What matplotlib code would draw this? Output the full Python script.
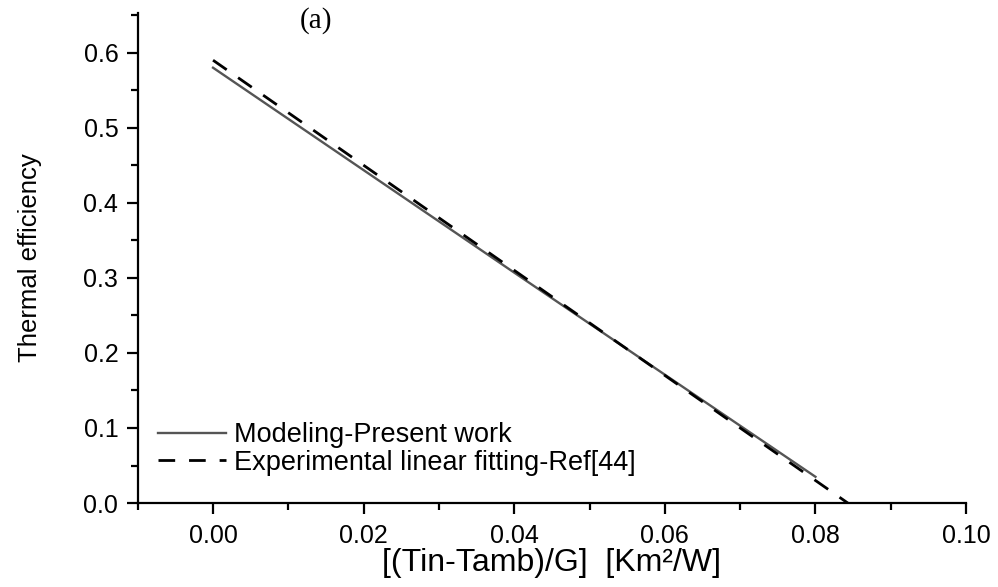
import matplotlib
matplotlib.use("Agg")
from matplotlib import pyplot as plt
from matplotlib.ticker import MultipleLocator

# Datos
x_modelo = [0.0, 0.04, 0.08]
ef_modelo = [0.580, 0.307, 0.035]
x_exp = [0.0, 0.04, 0.0843]
ef_exp = [0.590, 0.310, 0.0]

etiquetas = ["Modeling-Present work", "Experimental linear fitting-Ref[44]"]

plt.rcParams['font.family'] = ['Liberation Sans', 'DejaVu Sans']

fig = plt.figure(figsize=(9.98, 5.87), dpi=100)
ax = fig.add_axes([0.138, 0.143, 0.830, 0.835])

ax.plot(x_modelo, ef_modelo, color="#555555", lw=1.7, label=etiquetas[0])
ax.plot(x_exp, ef_exp, color="black", lw=2.0, dashes=(6, 5), label=etiquetas[1])

ax.set_xlim(-0.01, 0.10)
ax.set_ylim(0.0, 0.653)

# Solo ejes izquierdo e inferior
ax.spines["top"].set_visible(False)
ax.spines["right"].set_visible(False)
ax.spines["left"].set_linewidth(1.6)
ax.spines["bottom"].set_linewidth(1.6)

ax.xaxis.set_minor_locator(MultipleLocator(0.01))
ax.yaxis.set_minor_locator(MultipleLocator(0.05))
ax.set_xticks([0.0, 0.02, 0.04, 0.06, 0.08, 0.10])
ax.set_xticklabels(["0.00", "0.02", "0.04", "0.06", "0.08", "0.10"])
ax.set_yticks([0.0, 0.1, 0.2, 0.3, 0.4, 0.5, 0.6])
ax.set_yticklabels(["0.0", "0.1", "0.2", "0.3", "0.4", "0.5", "0.6"])

ax.tick_params(which="major", direction="out", length=8, width=1.6, labelsize=18, pad=6)
ax.tick_params(which="minor", direction="out", length=5, width=1.6)
ax.tick_params(axis="x", which="major", pad=7)

ax.set_xlabel("[(Tin-Tamb)/G]  [Km²/W]", fontsize=23, labelpad=0)
ax.set_ylabel("Thermal efficiency", fontsize=18.5, labelpad=30)

ax.text(0.300, 0.988, "(a)", transform=fig.transFigure, ha="left", va="top",
        fontsize=21, family="Liberation Serif")

ax.legend(loc="lower left", bbox_to_anchor=(-0.011, -0.005), frameon=False, fontsize=19.5,
          handlelength=2.5, handletextpad=0.3, labelspacing=0.05, borderaxespad=0.7)

plt.savefig("out.png", dpi=100)
plt.clf()
